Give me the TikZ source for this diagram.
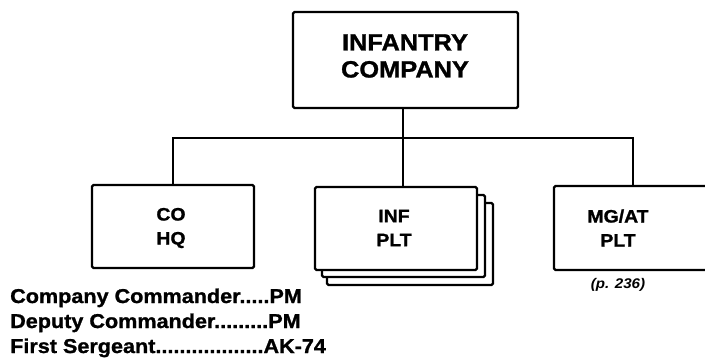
\documentclass[tikz,border=0pt]{standalone}
\usepackage{fontspec}
\setmainfont{Liberation Sans}[FakeStretch=1.08,BoldFeatures={FakeBold=1.2}]
\begin{document}
\begin{tikzpicture}[x=1pt,y=-1pt,
  box/.style={draw=black,line width=2.3pt,fill=white,rounded corners=1.5pt,inner sep=0pt},
  conn/.style={draw=black,line width=2pt},
  lbl/.style={font=\bfseries\fontsize{18}{24}\selectfont,align=center,inner sep=0pt},
  toplbl/.style={font=\bfseries\fontsize{23.5}{27}\selectfont,align=center,inner sep=0pt},
  list/.style={font=\bfseries\fontsize{20}{24}\selectfont,anchor=base west,inner sep=0pt}]
\useasboundingbox (0,0) rectangle (705,360);
% top box
\node[box,minimum width=225pt,minimum height=96pt] (top) at (405.5,60) {};
\node[toplbl] (toptext) at (405,56) {INFANTRY\\COMPANY};
% CO HQ
\node[box,minimum width=162pt,minimum height=83pt] (co) at (173,226.5) {};
\node[lbl] (cotext) at (171,228) {CO\\HQ};
% INF PLT stack
\node[box,minimum width=166pt,minimum height=82pt] (inf3) at (410,244) {};
\node[box,minimum width=163pt,minimum height=82pt] (inf2) at (403.5,236) {};
\node[box,minimum width=162pt,minimum height=83pt] (inf) at (396,228.5) {};
\node[lbl] (inftext) at (394,228) {INF\\PLT};
% MG/AT PLT
\node[box,minimum width=158pt,minimum height=84pt] (mg) at (633,228) {};
\node[lbl] (mgtext) at (618,228) {MG/AT\\PLT};
\node[font=\bfseries\itshape\fontsize{14}{16}\selectfont,inner sep=0pt] (page) at (618,285) {(p. 236)};
% connectors
\coordinate (j) at (403,138);
\draw[conn] (top.south -| j) -- (j);
\draw[conn] (co.north) |- (j);
\draw[conn] (j) -| (mg.north);
\draw[conn] (inf.north -| j) -- (j);
% weapons list
\node[list] (l1) at (10,303) {Company Commander.....PM};
\node[list] (l2) at (10,328) {Deputy Commander.........PM};
\node[list] (l3) at (10,353) {First Sergeant..................AK-74};
\end{tikzpicture}
\end{document}
